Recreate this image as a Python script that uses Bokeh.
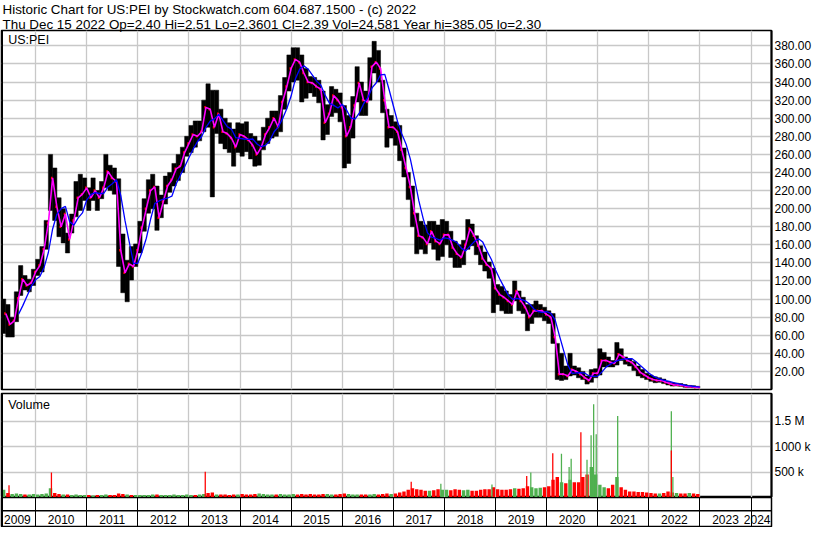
import pandas as pd
from bokeh.plotting import figure
from bokeh.layouts import column
from bokeh.models import (Range1d, LinearAxis, FixedTicker, Grid, Title, Label,
                          Span, ColumnDataSource, NumeralTickFormatter)
from bokeh.core.properties import value
from bokeh.embed import file_html
from bokeh.resources import INLINE

# ---------------- data ----------------
title_line1 = "Historic Chart for US:PEI by Stockwatch.com 604.687.1500 - (c) 2022"
title_line2 = "Thu Dec 15 2022  Op=2.40  Hi=2.51  Lo=2.3601  Cl=2.39  Vol=24,581  Year hi=385.05  lo=2.30"
symbol = "US:PEI"
volume_title = "Volume"

first_month = "2009-05"
last_month = "2022-12"

# monthly high / low / close, May 2009 .. Dec 2022
high = [100, 94, 80, 108, 137, 126, 122, 133,
        144, 158, 187, 260, 245, 212, 200, 173, 194, 230, 238, 234,
        223, 234, 220, 230, 260, 248, 245, 233, 172, 143, 158, 161,
        186, 211, 232, 238, 225, 215, 236, 240, 250, 260, 268, 280,
        292, 297, 297, 320, 338, 331, 331, 310, 300, 295, 288, 295,
        294, 296, 283, 280, 275, 290, 300, 308, 308, 325, 345, 370,
        378, 378, 370, 355, 346, 345, 342, 330, 315, 335, 332, 328,
        314, 303, 324, 357, 340, 330, 367, 385, 375, 342, 310, 303,
        296, 292, 267, 240, 225, 195, 186, 182, 186, 186, 182, 188,
        186, 175, 164, 160, 165, 188, 183, 170, 159, 152, 141, 134,
        116, 114, 109, 105, 120, 109, 102, 94, 94, 98, 94, 91,
        87, 84, 51, 40, 26, 40, 26, 24, 20, 15, 22, 23,
        45, 41, 36, 32, 52, 45, 36, 34, 31, 26, 22, 18,
        16, 14, 13, 11.5, 9, 7.5, 7, 6.5, 5.5, 4.5, 4.2, 3.5]
low = [62, 58, 58, 75, 104, 110, 108, 115,
       126, 130, 155, 198, 187, 169, 162, 151, 173, 191, 198, 209,
       198, 209, 198, 211, 223, 220, 216, 136, 107, 97, 121, 136,
       151, 175, 195, 200, 176, 190, 205, 218, 225, 231, 240, 258,
       262, 268, 275, 285, 290, 213, 283, 272, 266, 262, 247, 262,
       258, 263, 255, 247, 248, 265, 272, 278, 280, 285, 310, 330,
       340, 342, 318, 322, 328, 324, 317, 276, 282, 302, 306, 296,
       245, 250, 278, 318, 303, 303, 320, 350, 340, 306, 268, 278,
       270, 253, 235, 210, 180, 150, 155, 150, 162, 155, 143, 147,
       160, 146, 135, 135, 138, 155, 159, 149, 138, 131, 123, 85,
       94, 87, 84, 84, 98, 87, 84, 65, 73, 80, 80, 76,
       73, 51, 11, 10, 11, 15, 16, 13, 11, 6, 8, 13,
       16, 25, 25, 25, 27, 32, 28, 26, 21, 15, 13, 11,
       9, 7.5, 8, 6.5, 5, 3.8, 4, 3.5, 2.5, 2.2, 2.0, 2.0]
close = [84, 72, 76, 101, 122, 115, 118, 130,
         137, 155, 184, 234, 202, 180, 194, 166, 187, 212, 216, 223,
         212, 220, 212, 223, 241, 234, 230, 154, 129, 139, 136, 154,
         179, 200, 220, 224, 190, 208, 225, 232, 244, 247, 262, 272,
         282, 280, 285, 312, 310, 290, 305, 285, 283, 278, 268, 282,
         280, 276, 270, 260, 268, 282, 290, 300, 290, 318, 335, 355,
         365, 362, 350, 340, 339, 335, 332, 295, 305, 325, 320, 312,
         280, 290, 314, 339, 320, 318, 357, 362, 355, 320, 290, 290,
         285, 265, 245, 224, 195, 170, 168, 161, 175, 164, 161, 171,
         171, 157, 150, 146, 160, 178, 170, 159, 145, 138, 134, 112,
         105, 102, 98, 94, 109, 98, 91, 80, 87, 87, 87, 83,
         80, 58, 17, 17, 15, 22, 20, 17, 13, 10, 18, 18,
         32, 32, 30, 29, 39, 36, 32, 30, 25, 19, 16, 13,
         11, 10, 10, 8, 6.5, 5, 5, 4.5, 3, 3, 2.4, 2.39]
# typical monthly volume bar height, thousands of shares
volume_k = [150, 90, 70, 80, 70, 60, 60, 70,
            60, 70, 80, 180, 90, 70, 60, 60, 50, 60, 50, 50,
            50, 40, 50, 50, 60, 50, 50, 80, 70, 60, 50, 50,
            50, 50, 50, 60, 60, 50, 50, 50, 60, 50, 50, 60,
            50, 50, 60, 70, 90, 100, 60, 60, 60, 50, 60, 60,
            70, 60, 60, 70, 80, 70, 60, 60, 60, 70, 60, 60,
            70, 60, 70, 60, 70, 60, 60, 70, 70, 60, 60, 70,
            80, 70, 60, 60, 60, 60, 60, 70, 60, 70, 80, 70,
            80, 100, 120, 150, 180, 160, 150, 130, 130, 140, 160, 150,
            150, 140, 160, 150, 140, 150, 130, 130, 150, 160, 160, 200,
            160, 150, 150, 160, 180, 170, 180, 220, 200, 180, 190, 200,
            220, 350, 400, 300, 280, 350, 300, 300, 400, 450, 600, 450,
            250, 200, 180, 250, 400, 200, 150, 120, 120, 110, 110, 100,
            90, 80, 80, 90, 120, 100, 90, 80, 80, 90, 80, 70]
# single-day volume spikes: date (decimal year), volume (thousands), up day?
spike_date = [2009.48, 2010.31, 2013.32, 2017.35, 2017.93, 2018.93, 2019.61, 2019.69,
              2020.12, 2020.29, 2020.44, 2020.48, 2020.67, 2020.79, 2020.87, 2020.92,
              2020.97, 2021.39, 2022.44, 2022.44, 2022.47]
spike_vol_k = [240, 490, 505, 310, 270, 256, 420, 490,
               870, 860, 600, 760, 1280, 740, 1220, 1830,
               1240, 1600, 1690, 920, 400]
spike_up = [False, False, False, False, True, True, False, True,
            False, True, True, True, False, True, True, True,
            True, True, True, False, True]

year_lines = list(range(2010, 2025))
year_labels = [str(y) for y in range(2009, 2025)]
price_ticks = list(range(20, 381, 20))
vol_ticks = [500000, 1000000, 1500000]
vol_tick_labels = ["500 k", "1000 k", "1.5 M"]

# ---------------- styling ----------------
FONT = "Liberation Sans"
W = 814
X0, X1 = 2009.333, 2024.40
P_TOP = 397
V_TOP = 2.04e6
GRID = "#c8c8c8"
GREEN = "#4fb04f"
RED = "#ff0000"
RIGHT = 40

months = pd.period_range(first_month, last_month, freq="M")
xc = [m.year + (m.month - 0.5) / 12 for m in months]
df = pd.DataFrame({"x": xc, "high": high, "low": low, "close": close,
                   "vol": [v * 1000 for v in volume_k]})
df["chg"] = df["close"].diff().fillna(1)
df["vcolor"] = [GREEN if c >= 0 else RED for c in df["chg"]]
df["xr"] = df["x"] + 1 / 40
df["xe"] = df["x"] + 1 / 24
df["ma_long"] = df["close"].rolling(4).mean()
src = ColumnDataSource(df)

x_range = Range1d(X0, X1)


def base_fig(height, y_range, top=0, bottom=0):
    p = figure(width=W, height=height, x_range=x_range, y_range=y_range,
               output_backend="svg", toolbar_location=None,
               x_axis_location=None, y_axis_location=None,
               min_border_left=1, min_border_right=RIGHT,
               min_border_top=top, min_border_bottom=bottom,
               outline_line_color="black", outline_line_width=1.5,
               background_fill_color="white", border_fill_color="white")
    p.center = [r for r in p.center if not isinstance(r, Grid)]
    p.add_layout(Span(location=X0, dimension="height", line_color="black",
                      line_width=3))
    return p


def right_axis(ticks, **kw):
    return LinearAxis(ticker=FixedTicker(ticks=ticks),
                      major_tick_line_color=None, minor_tick_line_color=None,
                      major_tick_out=0, major_tick_in=0,
                      minor_tick_out=0, minor_tick_in=0,
                      axis_line_color="black", axis_line_width=2,
                      major_label_text_font=FONT, major_label_text_font_size="12px",
                      major_label_text_color="black", major_label_standoff=3, **kw)


# ---------------- price panel ----------------
p1 = base_fig(392, Range1d(0, P_TOP), bottom=3)
for t in (title_line2, title_line1):
    p1.add_layout(Title(text=t, text_font=FONT, text_font_size="13.4px",
                        text_font_style="normal", text_color="black",
                        standoff=-2, offset=1), "above")
p1.add_layout(Grid(dimension=0, ticker=FixedTicker(ticks=year_lines),
                   grid_line_color=GRID, grid_line_width=1.3))
p1.add_layout(Grid(dimension=1, ticker=FixedTicker(ticks=price_ticks),
                   grid_line_color=GRID, grid_line_width=1.3))
p1.add_layout(right_axis(price_ticks, formatter=NumeralTickFormatter(format="0.00")),
              "right")
p1.vbar(x="x", bottom="low", top="high", width=1 / 12, source=src,
        fill_color="black", line_color="black", line_width=0.5)
p1.rect(x="xr", y="close", width=1 / 32, height=2.5, height_units="screen",
        source=src, fill_color=RED, line_color=None)
p1.line(x="xe", y="close", source=src, line_color="#ff00ff", line_width=1.6)
p1.line(x="xe", y="ma_long", source=src, line_color="#0000ff", line_width=1.3)
p1.add_layout(Label(x=X0 + 0.13, y=P_TOP - 3, text=symbol, text_font=FONT,
                    text_font_size="12.5px", text_baseline="top", text_color="black"))

# ---------------- volume panel ----------------
p2 = base_fig(105, Range1d(0, V_TOP), top=1)
p2.add_layout(Grid(dimension=0, ticker=FixedTicker(ticks=year_lines),
                   grid_line_color=GRID, grid_line_width=1.3))
p2.add_layout(Grid(dimension=1, ticker=FixedTicker(ticks=vol_ticks),
                   grid_line_color=GRID, grid_line_width=1.3))
p2.add_layout(right_axis(vol_ticks,
                         major_label_overrides=dict(zip(vol_ticks, vol_tick_labels))),
              "right")
p2.vbar(x="x", top="vol", bottom=0, width=1 / 15, source=src,
        fill_color="vcolor", line_color=None)
spk = ColumnDataSource(dict(x=spike_date, top=[v * 1000 for v in spike_vol_k],
                            color=[GREEN if u else RED for u in spike_up]))
p2.vbar(x="x", top="top", bottom=0, width=1 / 40, source=spk,
        fill_color="color", line_color=None)
p2.add_layout(Label(x=X0 + 0.13, y=V_TOP * 0.96, text=volume_title, text_font=FONT,
                    text_font_size="12.5px", text_baseline="top", text_color="black"))

# ---------------- date band ----------------
p3 = base_fig(30, Range1d(0, 1))
p3.add_layout(Grid(dimension=0, ticker=FixedTicker(ticks=year_lines),
                   grid_line_color="black", grid_line_width=1))
p3.add_layout(Span(location=0.56, dimension="width", line_color="black", line_width=1.5))
half = 0.27
lx, la = [], []
for lab in year_labels:
    c = int(lab) + 0.5
    if c - half < X0:
        lx.append(X0 + 0.05); la.append("left")
    elif c + half > X1:
        lx.append(X1 - 0.02); la.append("right")
    else:
        lx.append(c); la.append("center")
p3.text(x=lx, y=[0.27] * len(lx), text=year_labels, text_align=la,
        text_baseline="middle", text_font=value(FONT), text_font_size="12px",
        text_color="black")

layout = column(p1, p2, p3, spacing=0)
open("out.html", "w").write(file_html(layout, INLINE))
